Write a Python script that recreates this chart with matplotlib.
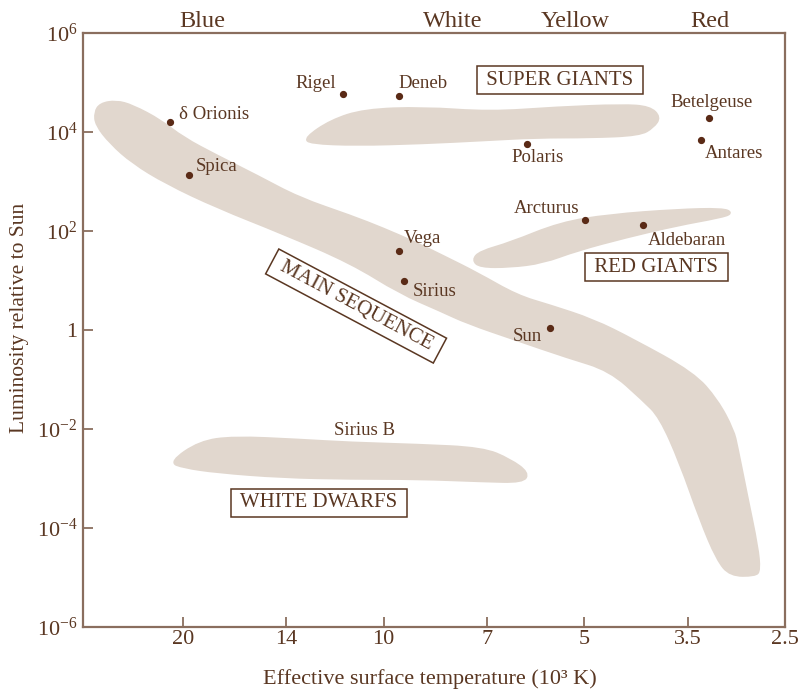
import matplotlib
matplotlib.use("Agg")
import matplotlib.pyplot as plt
import numpy as np
from matplotlib.patches import PathPatch
from matplotlib.path import Path
from matplotlib.ticker import NullLocator, FixedLocator, FixedFormatter

# ---------------- data ----------------
# temperatures in 10^3 K, luminosities relative to Sun
star_names = ["δ Orionis", "Spica", "Rigel", "Deneb", "Polaris", "Betelgeuse",
              "Antares", "Vega", "Sirius", "Arcturus", "Aldebaran", "Sun"]
star_T = [20.9, 19.6, 11.5, 9.5, 6.1, 3.25, 3.34, 9.48, 9.32, 4.99, 4.08, 5.63]
star_L = [1.6e4, 1.35e3, 5.9e4, 5.4e4, 5.8e3, 1.9e4, 6.9e3, 40, 9.8, 166, 132, 1.1]

# region outlines (T in 10^3 K, L relative to Sun)
ms_T = [27.1, 26.6, 25.2, 23.8, 21.6, 20.0, 17.8, 15.5, 13.4, 11.2, 10.0, 8.94,
        8.15, 7.24, 6.31, 5.63, 4.85, 4.22, 3.43, 3.16, 2.99, 2.95, 2.85, 2.75,
        2.73, 2.77, 3.02, 3.16, 3.35, 3.59, 3.85, 4.08, 4.58, 5.31, 6.31, 7.50,
        8.23, 9.45, 11.2, 14.2, 17.8, 21.2, 23.8, 25.7, 27.0]
ms_L = [2.5e4, 3.7e4, 4.2e4, 3.4e4, 1.7e4, 7.6e3, 3.3e3, 1.3e3, 460, 200, 110, 57,
        31, 14, 4.9, 3.1, 1.6, 0.63, 0.135, 0.0385, 0.0095, 4.3e-3, 4.2e-4, 4.1e-5,
        1.4e-5, 1.1e-5, 1.1e-5, 2.3e-5, 1.5e-4, 2.1e-3, 0.0175, 0.0385, 0.155, 0.285,
        0.63, 1.4, 2.5, 5.6, 23, 91, 305, 930, 2.4e3, 6.0e3, 1.4e4]

sg_T = [13.1, 12.0, 10.7, 8.73, 6.93, 5.50, 4.38, 3.99, 3.85, 3.94, 4.13, 4.90,
        5.89, 7.10, 8.73, 11.0, 12.9]
sg_L = [7.6e3, 1.7e4, 2.8e4, 3.1e4, 2.5e4, 3.1e4, 3.5e4, 3.2e4, 2.0e4, 1.26e4,
        8.7e3, 7.9e3, 7.9e3, 6.9e3, 6.0e3, 5.5e3, 6.0e3]

rg_T = [7.35, 7.17, 6.46, 5.44, 4.58, 3.63, 3.10, 3.00, 3.13, 3.63, 4.32, 5.13,
        5.77, 6.46, 7.17]
rg_L = [26, 38, 57, 145, 210, 265, 280, 230, 190, 132, 76, 41, 23, 19, 19]

wd_T = [20.9, 18.9, 16.8, 13.4, 11.2, 8.91, 7.10, 6.46, 6.07, 6.18, 7.10, 8.91,
        11.2, 14.2, 17.8, 20.0]
wd_L = [2.15e-3, 5.5e-3, 6.9e-3, 6.0e-3, 5.2e-3, 4.75e-3, 4.1e-3, 2.4e-3, 1.3e-3,
        8.5e-4, 8.9e-4, 1.0e-3, 1.0e-3, 1.07e-3, 1.35e-3, 1.7e-3]

region_names = ["SUPER GIANTS", "RED GIANTS", "WHITE DWARFS", "MAIN SEQUENCE"]
region_T = [5.44, 3.90, 12.5, 11.0]
region_L = [1.12e5, 18.7, 3.2e-4, 3.05]

color_names = ["Blue", "White", "Yellow", "Red"]
color_T = [18.7, 7.87, 5.16, 3.24]

x_ticks = [20, 14, 10, 7, 5, 3.5, 2.5]
x_tick_labels = ["20", "14", "10", "7", "5", "3.5", "2.5"]
y_ticks = [1e-6, 1e-4, 1e-2, 1, 1e2, 1e4, 1e6]
y_tick_labels = [r"$10^{-6}$", r"$10^{-4}$", r"$10^{-2}$", "1", r"$10^{2}$", r"$10^{4}$", r"$10^{6}$"]

# ---------------- style ----------------
FONT = "Liberation Serif"
plt.rcParams["font.family"] = [FONT, "DejaVu Serif"]
plt.rcParams["mathtext.fontset"] = "custom"
plt.rcParams["mathtext.rm"] = FONT
plt.rcParams["mathtext.it"] = FONT
TXT = "#5a3722"
DOT = "#5a2a16"
SPINE = "#8a6e5e"
FILL = "#e1d7ce"


def smooth_outline(T, L):
    """Closed outline drawn with quadratic Bezier segments (vertices act as control points)."""
    T = np.asarray(T, float)
    L = np.asarray(L, float)
    n = len(T)
    mid = lambda a, b: np.sqrt(a * b)  # midpoint on log axes
    verts, codes = [], []
    start = (mid(T[-1], T[0]), mid(L[-1], L[0]))
    verts.append(start)
    codes.append(Path.MOVETO)
    for i in range(n):
        j = (i + 1) % n
        verts.append((T[i], L[i]))
        verts.append((mid(T[i], T[j]), mid(L[i], L[j])))
        codes += [Path.CURVE3, Path.CURVE3]
    verts.append(start)
    codes.append(Path.CLOSEPOLY)
    return Path(verts, codes)


fig = plt.figure(figsize=(8.03, 6.93), dpi=100)
ax = fig.add_axes([83 / 803, 1 - 627 / 693, (785 - 83) / 803, (627 - 33) / 693])
ax.set_xscale("log")
ax.set_yscale("log")
ax.set_xlim(28.25, 2.5)
ax.set_ylim(1e-6, 1e6)

for T, L in [(ms_T, ms_L), (sg_T, sg_L), (rg_T, rg_L), (wd_T, wd_L)]:
    patch = PathPatch(smooth_outline(T, L), facecolor=FILL, edgecolor=FILL,
                      linewidth=2.0, joinstyle="round", zorder=1)
    ax.add_patch(patch)

ax.plot(star_T, star_L, "o", color=DOT, markersize=4.2, zorder=3)

offsets = {
    "δ Orionis": ((6, 5), "left"),
    "Spica": ((5, 6.5), "left"),
    "Rigel": ((-5, 7.5), "right"),
    "Deneb": ((0, 9), "left"),
    "Polaris": ((8, -10), "center"),
    "Betelgeuse": ((2, 11.5), "center"),
    "Antares": ((3, -10), "left"),
    "Vega": ((3, 8.5), "left"),
    "Sirius": ((6, -7.5), "left"),
    "Arcturus": ((-4, 8), "right"),
    "Aldebaran": ((3, -11), "left"),
    "Sun": ((-6, -6.5), "right"),
}
for name, T, L in zip(star_names, star_T, star_L):
    off, ha = offsets[name]
    ax.annotate(name, (T, L), xytext=off, textcoords="offset points",
                ha=ha, va="center", fontsize=13.5, color=TXT, zorder=4)

ax.text(10.7, 9.5e-3, "Sirius B", ha="center", va="center", fontsize=13.5,
        color=TXT, zorder=4)

rots = [0, 0, 0, -28]
for name, T, L, r in zip(region_names, region_T, region_L, rots):
    ax.text(T, L, " " + name + " ", ha="center", va="center", rotation=r,
            fontsize=15, color=TXT, zorder=5, rotation_mode="anchor",
            bbox=dict(boxstyle="square,pad=0.22", facecolor="white",
                      edgecolor=TXT, linewidth=1.1))

trans = ax.get_xaxis_transform()
for name, T in zip(color_names, color_T):
    ax.text(T, (627 - 27) / 594, name, transform=trans, ha="center", va="baseline",
            fontsize=17.5, color=TXT, clip_on=False)

ax.xaxis.set_major_locator(FixedLocator(x_ticks))
ax.xaxis.set_major_formatter(FixedFormatter(x_tick_labels))
ax.xaxis.set_minor_locator(NullLocator())
ax.yaxis.set_major_locator(FixedLocator(y_ticks))
ax.yaxis.set_major_formatter(FixedFormatter(y_tick_labels))
ax.yaxis.set_minor_locator(NullLocator())

ax.tick_params(axis="both", direction="in", length=7.5, width=1.3, color=SPINE,
               labelcolor=TXT, labelsize=16)
ax.tick_params(axis="x", pad=2)
ax.tick_params(axis="y", pad=4)
for s in ax.spines.values():
    s.set_color(SPINE)
    s.set_linewidth(1.6)

fig.text(20 / 803, 1 - 318 / 693, "Luminosity relative to Sun", rotation=90,
         ha="center", va="center", fontsize=15.5, color=TXT)
fig.text(430 / 803, 1 - 684 / 693, "Effective surface temperature (10³ K)",
         ha="center", va="baseline", fontsize=16, color=TXT)

fig.savefig("out.png", dpi=100)
